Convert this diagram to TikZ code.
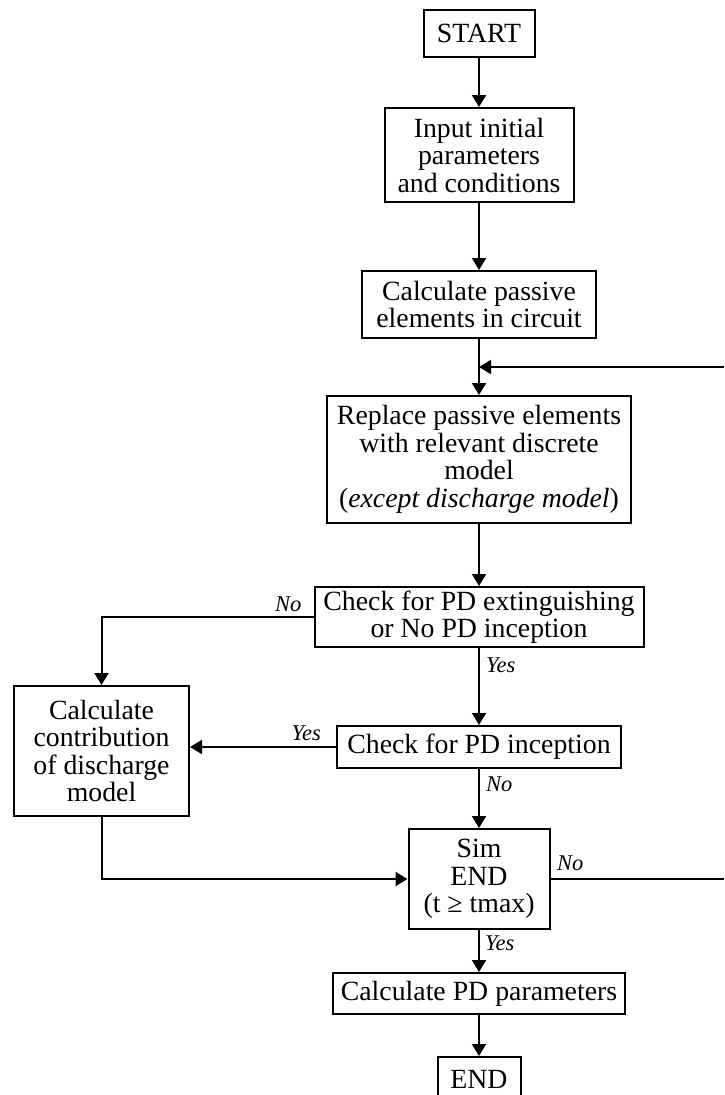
\documentclass[tikz,border=0pt]{standalone}
\usepackage{fontspec}
\setmainfont{Liberation Serif}
\usetikzlibrary{arrows.meta,calc}
\begin{document}
\begin{tikzpicture}[x=1pt,y=-1pt,
  box/.style={draw, line width=2pt, inner sep=0pt, align=center,
              font=\fontsize{27.8}{27.5}\selectfont},
  arr/.style={line width=2pt, -{Triangle[width=14pt,length=12pt]}},
  lbl/.style={inner sep=0pt, font=\fontsize{22.5}{22.5}\selectfont\itshape}]
\useasboundingbox (0,0) rectangle (724,1095);
\clip (0,0) rectangle (724,1095);

% process boxes on the main axis
\node[box, minimum width=111pt, minimum height=47pt] (start) at (479,33.5) {START};
\node[box, minimum width=189pt, minimum height=94pt] (input) at (479,155)
  {Input initial\\parameters\\and conditions};
\node[box, minimum width=234pt, minimum height=67pt] (passive) at (479,304.5)
  {Calculate passive\\elements in circuit};
\node[box, minimum width=304pt, minimum height=127pt] (replace) at (479,459.5)
  {Replace passive elements\\with relevant discrete\\model\\(\textit{except discharge model})};
\node[box, minimum width=329pt, minimum height=60pt] (ext) at (479,617)
  {Check for PD extinguishing\\or No PD inception};
\node[box, minimum width=284pt, minimum height=42pt] (inc) at (479,747)
  {Check for PD inception};
\node[box, minimum width=141pt, minimum height=100pt] (sim) at (479,879)
  {Sim\\END\\(t ≥ tmax)};
\node[box, minimum width=292pt, minimum height=41pt] (pdpar) at (479,993.5)
  {Calculate PD parameters};
\node[box, minimum width=83pt, minimum height=44pt] (finish) at (479,1079)
  {END};

% side box
\node[box, minimum width=175pt, minimum height=130pt] (contrib) at (101.5,751)
  {Calculate\\contribution\\of discharge\\model};

% loop-back points
\coordinate (merge) at (479,367);
\coordinate (loopx) at (740,879);

% main flow
\draw[arr] (start) -- (input);
\draw[arr] (input) -- (passive);
\draw[arr] (passive) -- (replace);
\draw[arr] (replace) -- (ext);
\draw[arr] (ext) -- (inc);
\draw[arr] (inc) -- (sim);
\draw[arr] (sim) -- (pdpar);
\draw[arr] (pdpar) -- (finish);

% branches
\draw[arr] (ext.west) -| (contrib.north);
\draw[arr] (inc.west) -- (contrib.east |- inc.west);
\draw[arr] (contrib.south) |- (sim.west);
\draw[arr] (sim.east) -- (loopx) |- (merge);

% branch labels
\node[lbl, anchor=south east] (lno1) at ($(ext.west)+(-12,-5)$) {No};
\node[lbl, anchor=west] (lyes1) at (486,665) {Yes};
\node[lbl, anchor=south east] (lyes2) at ($(inc.west)+(-15,-6)$) {Yes};
\node[lbl, anchor=west] (lno2) at (486,784) {No};
\node[lbl, anchor=west] (lno3) at (557,863) {No};
\node[lbl, anchor=west] (lyes3) at (485,943) {Yes};
\end{tikzpicture}
\end{document}
